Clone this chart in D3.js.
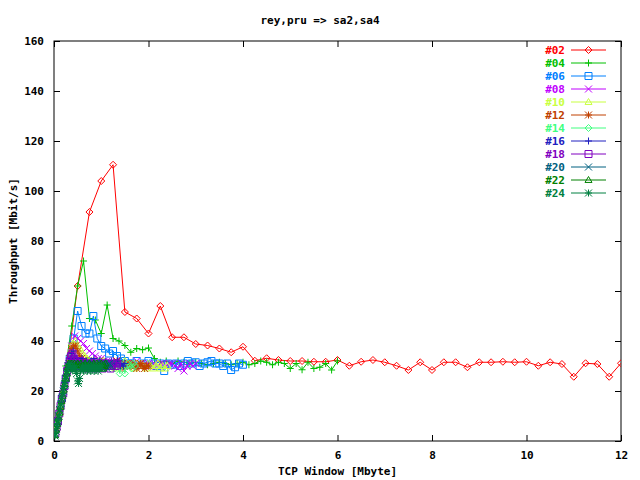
<!DOCTYPE html>
<html><head><meta charset="utf-8">
<script src="https://d3js.org/d3.v7.min.js"></script>
<style>body{margin:0;background:#fff}svg text{font-family:"DejaVu Sans Mono",monospace;font-weight:bold;font-size:11px}</style>
</head><body><svg id="c" width="640" height="480"></svg>
<script>
const title = "rey,pru => sa2,sa4";
const xLabel = "TCP Window [Mbyte]";
const yLabel = "Throughput [Mbit/s]";
const xTicks = [0,2,4,6,8,10,12];
const yTicks = [0,20,40,60,80,100,120,140,160];
const seriesNames = ["#02","#04","#06","#08","#10","#12","#14","#16","#18","#20","#22","#24"];
const seriesColors = ["#ff0000","#00c000","#0080ff","#c000ff","#c8ff40","#c04000","#40ff80","#2020c0","#8000c0","#006080","#008000","#008040"];
const seriesShapes = ["diamond","plus","square","cross","triangle","star","diamond","plus","square","cross","triangle","star"];
const windowStep = [0.25,0.125,0.0833,0.0625,0.05,0.0417,0.0357,0.03125,0.0278,0.025,0.0227,0.0208];
const s02 = [25,62,91.6,104,110.5,51.6,49,43,54,41.5,41.5,38.8,38.2,37,35.5,37.7,32.1,33.1,32.4,32,32,31.7,31.7,32.4,30.1,31.7,32.4,31.5,30.1,28.4,31.5,28.4,31.5,31.5,29.5,31.5,31.5,31.7,31.5,31.7,30.1,31.5,30.8,25.7,31.1,30.8,25.7,31.1];
const s04 = [12,30,46,62,72,49,48.4,43,54.4,41,40,38.2,35.5,37,36.5,37.2,33,31.5,32,31,32,31.5,31,31.5,31,30.5,31,31.5,31,30.5,31,31.5,30.5,31,32,31.5,30.5,31.5,31,29,31,28.5,31.5,29,29.5,31,28.4,32];
const s06 = [8,17,25,33,41,52,46,43,43,50,41,38,37,35,36,34,33,32,31,31,32,30.5,31,32,31,30,31,28,31,30.5,31,30,31,32,31,31.5,30,31,31.5,32,31,31,30,31,28.4,29.5,31,30.5];
const s08 = [6,12,19,25,31,38,42,41,40,39,37,36,35,34,33,33,32,32,31,31,32,31,30,31,31,30,31,32,31,30,31,31,30,31,30,31,31,30,31,31,30,29,31,28,30,31,30,31];
const s10 = [5,10,15,20,25,30,36,39,40,38,37,35,34,33,32,32,31,31,30,31,32,30,31,30,31,29,31,30,31,32,30,31,30,29,31,30,31,30,29,31,30,29,30,31,29,30,29,30];
const s12 = [4,8,12,17,21,25,29,33,37,38,38,36,34,33,32,32,31,31,32,31,30,31,32,31,30,31,31,30,31,30,31,32,31,30,29,31,30,31,30,31,30,29,30,31,30,29,30,30];
const s14 = [3.5,7,11,14,18,21,25,28,31,33,34,33,32,31,32,31,30,31,31,30,32,31,30,31,30,31,32,31,30,31,30,31,30,31,30,29,31,30,27,30,31,27,30,31,30,29,31,30];
const s16 = [3,6,9,12,16,19,22,25,28,31,33,35,36,34,33,32,31,32,33,31,30,32,31,30,32,31,33,31,30,31,32,31,30,31,32,31,30,31,32,31,30,31,32,31,30,31,30,31];
const s18 = [3,5.5,8,11,14,17,19,22,25,28,30,32,34,35,33,32,31,30,31,32,30,31,30,31,29,30,31,30,31,30,29,31,30,31,30,31,29,30,31,30,31,30,29,30,31,30,30,31];
const s20 = [2.5,5,7.5,10,12.5,15,17.5,20,22.5,25,27.5,30,31,30,31,29,30,31,30,29,31,30,29,30,31,30,29,31,30,29,30,31,30,29,30,31,30,29,30,31,29,30,31,30,29,30,31,30];
const s22 = [2.3,4.5,6.8,9,11.3,13.6,16,18,20.5,22.7,25,27,29.5,31,30,31,30,29,31,30,30,31,29,30,31,30,29,30,31,30,29,30,31,30,29,30,31,30,29,31,30,29,30,31,30,29,30,31];
const s24 = [2,4,6,8,10,12.5,14.5,17,19,21,23,25,27,29,30,31,30,29,28,29,30,29,27,24,23,25,28,29,30,28,29,30,29,28,30,29,28,30,29,30,28,29,30,29,28,30,29,30];
const seriesValues = [s02,s04,s06,s08,s10,s12,s14,s16,s18,s20,s22,s24];

const svg = d3.select("#c");
const L=54,R=621,T=41,B=441;
const x = d3.scaleLinear().domain([0,12]).range([L,R]);
const y = d3.scaleLinear().domain([0,160]).range([B,T]);

svg.append("text").attr("x",320).attr("y",24).attr("text-anchor","middle").text(title);
svg.append("text").attr("x",(L+R)/2).attr("y",475).attr("text-anchor","middle").text(xLabel);
svg.append("text").attr("transform","translate(17,"+((T+B)/2)+") rotate(-90)").attr("text-anchor","middle").text(yLabel);

const ax = (g)=>{g.selectAll(".domain").remove();g.selectAll("text").style("font-family","DejaVu Sans Mono").style("font-weight","bold").style("font-size","11px").attr("fill","#000");g.selectAll("line").attr("stroke","#000");};
svg.append("g").attr("transform",`translate(0,${B})`).call(d3.axisBottom(x).tickValues(xTicks).tickSize(-6).tickPadding(10).tickFormat(d3.format("d"))).call(ax);
svg.append("g").attr("transform",`translate(0,${T})`).call(d3.axisTop(x).tickValues(xTicks).tickSize(-6).tickFormat("")).call(ax);
svg.append("g").attr("transform",`translate(${L},0)`).call(d3.axisLeft(y).tickValues(yTicks).tickSize(-6).tickPadding(10).tickFormat(d3.format("d"))).call(ax);
svg.append("g").attr("transform",`translate(${R},0)`).call(d3.axisRight(y).tickValues(yTicks).tickSize(-6).tickFormat("")).call(ax);
svg.append("rect").attr("x",L).attr("y",T).attr("width",R-L).attr("height",B-T).attr("fill","none").attr("stroke","#000");

function marker(g,shape,cx,cy,col){
  const r=3.5; let d;
  if(shape==="diamond") d=`M${cx},${cy-r}L${cx+r},${cy}L${cx},${cy+r}L${cx-r},${cy}Z`;
  else if(shape==="plus") d=`M${cx-r},${cy}H${cx+r}M${cx},${cy-r}V${cy+r}`;
  else if(shape==="square") d=`M${cx-r},${cy-r}h${2*r}v${2*r}h${-2*r}Z`;
  else if(shape==="cross") d=`M${cx-r},${cy-r}L${cx+r},${cy+r}M${cx-r},${cy+r}L${cx+r},${cy-r}`;
  else if(shape==="triangle") d=`M${cx},${cy-r}L${cx+r},${cy+r*0.7}L${cx-r},${cy+r*0.7}Z`;
  else d=`M${cx-r},${cy}H${cx+r}M${cx},${cy-r}V${cy+r}M${cx-r},${cy-r}L${cx+r},${cy+r}M${cx-r},${cy+r}L${cx+r},${cy-r}`;
  g.append("path").attr("d",d).attr("fill","none").attr("stroke",col).attr("stroke-width",1);
}
const line = d3.line().x(d=>x(d[0])).y(d=>y(d[1]));
const clip = svg.append("clipPath").attr("id","cl").append("rect").attr("x",L).attr("y",T).attr("width",R-L).attr("height",B-T);
const plot = svg.append("g").attr("clip-path","url(#cl)");
seriesValues.forEach((vals,k)=>{
  const pts = vals.map((v,i)=>[(i+1)*windowStep[k],v]);
  const g = plot.append("g");
  g.append("path").attr("d",line(pts)).attr("fill","none").attr("stroke",seriesColors[k]).attr("stroke-width",1);
  pts.forEach(p=>marker(g,seriesShapes[k],x(p[0]),y(p[1]),seriesColors[k]));
});
const lg = svg.append("g");
seriesNames.forEach((n,k)=>{
  const yy = 50+k*13;
  lg.append("text").attr("x",565).attr("y",yy+4).attr("text-anchor","end").attr("fill",seriesColors[k]).text(n);
  lg.append("line").attr("x1",571).attr("x2",606).attr("y1",yy).attr("y2",yy).attr("stroke",seriesColors[k]);
  marker(lg,seriesShapes[k],588.5,yy,seriesColors[k]);
});
</script></body></html>
